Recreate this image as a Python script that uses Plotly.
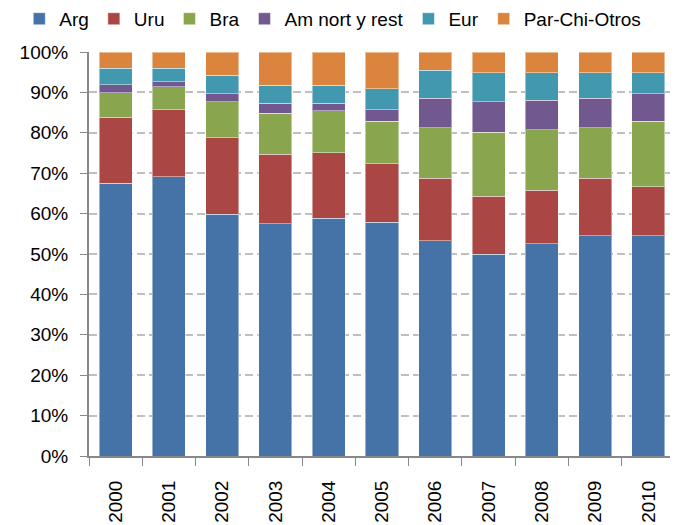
import plotly.graph_objects as go

years = ["2000", "2001", "2002", "2003", "2004", "2005", "2006", "2007", "2008", "2009", "2010"]
arg = [67.6, 69.1, 59.8, 57.5, 58.9, 57.8, 53.3, 50.0, 52.5, 54.5, 54.5]
uru = [16.3, 16.6, 19.0, 17.2, 16.2, 14.5, 15.4, 14.3, 13.3, 14.2, 12.2]
bra = [6.1, 5.7, 8.9, 10.2, 10.3, 10.6, 12.5, 15.8, 15.0, 12.5, 16.2]
amn = [2.0, 1.2, 2.0, 2.4, 1.9, 2.8, 7.3, 7.6, 7.3, 7.3, 6.8]
eur = [4.1, 3.4, 4.5, 4.5, 4.5, 5.2, 7.0, 7.2, 6.8, 6.4, 5.2]
par = [4.0, 4.0, 5.8, 8.2, 8.2, 9.1, 4.5, 5.1, 5.1, 5.1, 5.1]

y_ticks = [0, 10, 20, 30, 40, 50, 60, 70, 80, 90, 100]
y_tick_labels = [f"{v}%" for v in y_ticks]

series = [
    ("Arg", arg, "#4572A7"),
    ("Uru", uru, "#AA4643"),
    ("Bra", bra, "#89A54E"),
    ("Am nort y rest", amn, "#71588F"),
    ("Eur", eur, "#4198AF"),
    ("Par-Chi-Otros", par, "#DB843D"),
]

fig = go.Figure()
for name, vals, col in series:
    fig.add_trace(go.Bar(
        x=years, y=vals, name=name,
        marker=dict(color=col, line=dict(color="rgba(255,255,255,0.45)", width=1)),
    ))

fig.update_layout(
    width=678, height=525,
    barmode="stack", barnorm="percent", bargap=0.38,
    plot_bgcolor="white", paper_bgcolor="white",
    margin=dict(l=81, r=11, t=44, b=77, autoexpand=False),
    font=dict(family="Liberation Sans, Arial, sans-serif", color="#000000"),
    legend=dict(
        orientation="h", x=-0.119, xanchor="left", y=1.082, yanchor="middle",
        font=dict(size=19, family="Liberation Sans, Arial"),
        traceorder="normal", itemwidth=30, bgcolor="rgba(0,0,0,0)",
    ),
    xaxis=dict(
        type="category", tickangle=-90, tickfont=dict(size=19),
        showline=True, linecolor="#888888", linewidth=2,
        ticks="outside", tickson="boundaries", ticklen=8, tickcolor="#888888",
        showgrid=False, automargin=False, ticklabelstandoff=15,
    ),
    yaxis=dict(
        range=[0, 100], tickmode="array", tickvals=y_ticks, ticktext=y_tick_labels,
        tickfont=dict(size=19),
        showline=True, linecolor="#888888", linewidth=2,
        ticks="outside", ticklen=7, tickcolor="#888888",
        showgrid=True, gridcolor="#BFBFBF", griddash="8px,4px", gridwidth=1.5,
        zeroline=False, automargin=False, ticklabelstandoff=8,
    ),
)

fig.write_html("out.html")
